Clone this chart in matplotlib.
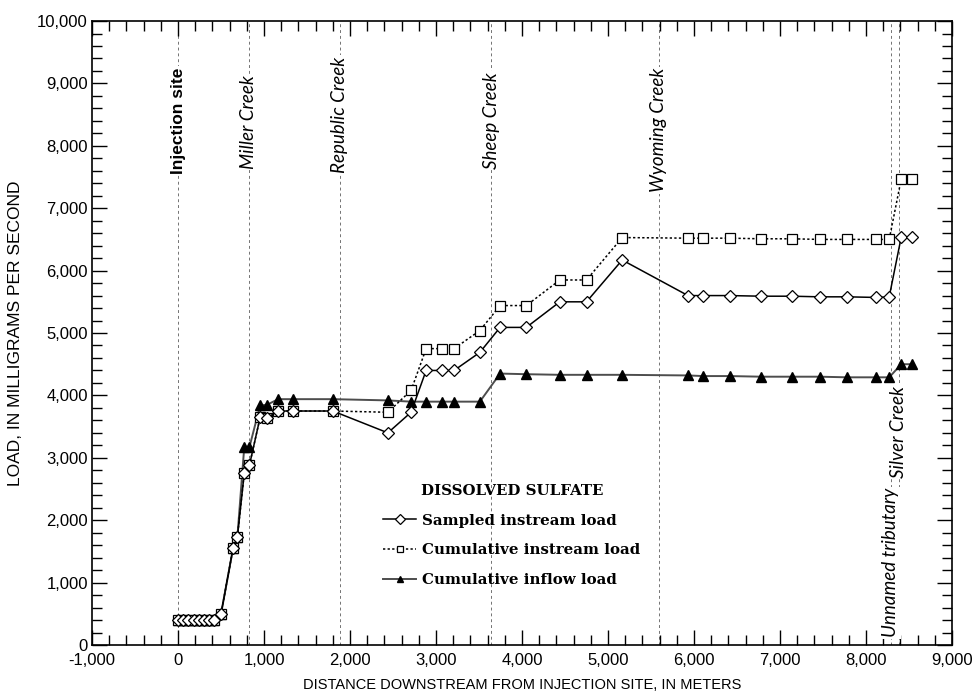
import matplotlib.pyplot as plt
from matplotlib.ticker import MultipleLocator, FuncFormatter

# Расстояние вниз по течению от места инъекции, м
distance = [0, 60, 120, 180, 240, 300, 360, 420, 500, 640, 690, 770, 830,
            955, 1035, 1165, 1340, 1800, 2440, 2710, 2885, 3070, 3210, 3510,
            3745, 4050, 4440, 4750, 5165, 5930, 6110, 6420, 6780, 7140, 7460,
            7780, 8120, 8270, 8410, 8540]

# Нагрузка растворённого сульфата, мг/с
sampled = [400, 400, 400, 400, 400, 400, 400, 400, 500, 1550, 1730, 2750, 2880,
           3650, 3640, 3750, 3750, 3750, 3400, 3730, 4400, 4400, 4400, 4690,
           5090, 5090, 5500, 5500, 6170, 5600, 5600, 5600, 5590, 5590, 5580,
           5580, 5570, 5580, 6540, 6540]
cum_instream = [400, 400, 400, 400, 400, 400, 400, 400, 500, 1550, 1730, 2750, 2880,
                3650, 3640, 3750, 3750, 3750, 3730, 4080, 4750, 4750, 4750, 5040,
                5440, 5440, 5850, 5850, 6530, 6520, 6520, 6520, 6510, 6510, 6500,
                6500, 6500, 6500, 7470, 7470]
cum_inflow = [400, 400, 400, 400, 400, 400, 400, 400, 500, 1550, 1730, 3170, 3170,
              3840, 3850, 3940, 3940, 3940, 3920, 3900, 3900, 3900, 3900, 3900,
              4350, 4340, 4330, 4330, 4330, 4320, 4310, 4310, 4300, 4300, 4300,
              4290, 4290, 4290, 4500, 4500]

# Притоки и место инъекции
site_names = ['Injection site', 'Miller Creek', 'Republic Creek', 'Sheep Creek',
              'Wyoming Creek', 'Unnamed tributary', 'Silver Creek']
site_x = [0, 825, 1880, 3640, 5590, 8290, 8380]
site_label_y = [8400, 8380, 8500, 8400, 8250, 1320, 3420]

fig = plt.figure(figsize=(9.76, 6.94), dpi=100)
ax = fig.add_axes([0.0943, 0.0706, 0.8811, 0.8991])

# Вертикальные пунктиры с подписями
for i, (name, sx) in enumerate(zip(site_names, site_x)):
    ax.axvline(sx, color='0.45', lw=0.7, ls=(0, (3, 3)), zorder=1)
    if name == 'Injection site':
        font = dict(family='Liberation Sans', weight='bold', size=12.5)
    else:
        font = dict(family='Lato', style='italic', size=13.5)
    ax.text(sx, site_label_y[i], name, rotation=90, ha='center', va='center',
            zorder=2, bbox=dict(facecolor='white', edgecolor='none', pad=1),
            **font)

ax.plot(distance, cum_inflow, color='0.3', lw=1.4, marker='^', ms=6.5,
        mfc='black', mec='black', label='Cumulative inflow load', zorder=3)
ax.plot(distance, cum_instream, color='black', lw=1.1, ls=(0, (1.5, 1.5)),
        marker='s', ms=7.5, mfc='white', mec='black', mew=0.9,
        label='Cumulative instream load', zorder=4)
ax.plot(distance, sampled, color='black', lw=1.1, marker='D', ms=6, mfc='white',
        mec='black', mew=0.9, label='Sampled instream load', zorder=5)

ax.set_xlim(-1000, 9000)
ax.set_ylim(0, 10000)
ax.xaxis.set_major_locator(MultipleLocator(1000))
ax.xaxis.set_minor_locator(MultipleLocator(200))
ax.yaxis.set_major_locator(MultipleLocator(1000))
ax.yaxis.set_minor_locator(MultipleLocator(200))
fmt = FuncFormatter(lambda v, p: f'{int(v):,}')
ax.xaxis.set_major_formatter(fmt)
ax.yaxis.set_major_formatter(fmt)
ax.tick_params(which='both', direction='in', top=True, right=True,
               labelsize=12, width=1)
ax.tick_params(which='major', length=11)
ax.tick_params(which='minor', length=7)
ax.tick_params(axis='x', pad=6)
ax.tick_params(axis='y', pad=3)
for lbl in ax.get_xticklabels() + ax.get_yticklabels():
    lbl.set_family('Liberation Sans')
for s in ax.spines.values():
    s.set_linewidth(1.2)

ax.set_xlabel('DISTANCE DOWNSTREAM FROM INJECTION SITE, IN METERS',
              family='Liberation Sans', fontsize=10.5, labelpad=7)
ax.set_ylabel('LOAD, IN MILLIGRAMS PER SECOND', family='Liberation Sans',
              fontsize=12.5, labelpad=10)

handles, labels = ax.get_legend_handles_labels()
order = [2, 1, 0]
leg = ax.legend([handles[i] for i in order], [labels[i] for i in order],
                title='DISSOLVED SULFATE', frameon=False,
                loc='upper left', bbox_to_anchor=(0.323, 0.28),
                handlelength=2.2, handletextpad=0.4, labelspacing=1.05,
                prop=dict(family='DejaVu Serif', weight='bold', size=10.8))
leg.get_title().set_fontproperties(dict(family='DejaVu Serif', weight='bold', size=10.8))
for h in leg.legend_handles:
    h.set_markersize(5)

fig.savefig('out.png', dpi=100)
